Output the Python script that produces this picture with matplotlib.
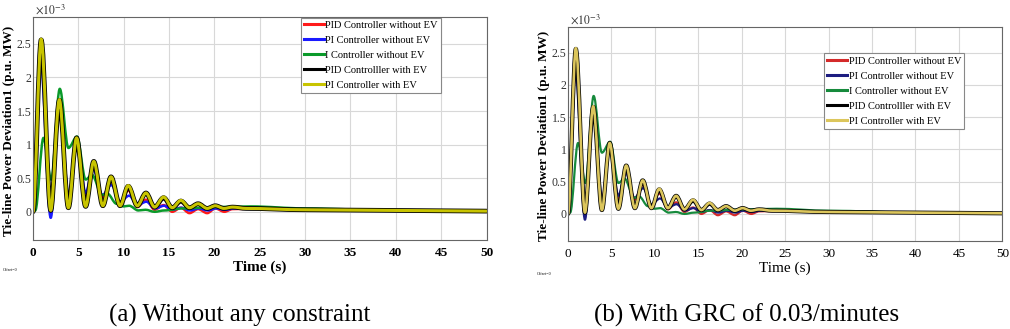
import matplotlib
matplotlib.use('Agg')
import matplotlib.pyplot as plt
from matplotlib.path import Path
from matplotlib.patches import PathPatch
from matplotlib.lines import Line2D

plt.rcParams['font.family'] = ['Liberation Serif', 'DejaVu Serif']
plt.rcParams['mathtext.fontset'] = 'stix'

# Tie-line power deviation (x1e-3 p.u. MW), read at the peaks/troughs of each trace
t_pid_no_ev = [0, 0.9, 1.95, 2.9, 3.9, 4.8, 5.8, 6.65, 7.65, 8.6, 9.6, 10.5, 11.5, 12.45, 13.4,
               14.4, 15.35, 16.3, 17.25, 18.2, 19.2, 20.1, 21.1, 22.0, 25, 30, 40, 50]
v_pid_no_ev = [0, 2.35, -0.03, 1.63, 0.18, 1.08, 0.22, 0.68, 0.22, 0.45, 0.13, 0.32, 0.07, 0.18, 0.03,
               0.10, 0.0, 0.06, -0.02, 0.04, -0.02, 0.05, 0.0, 0.04, 0.05, 0.04, 0.02, 0.01]

t_pi_no_ev = [0, 0.85, 1.95, 2.9, 3.95, 4.85, 5.8, 6.6, 7.65, 8.65, 9.6, 10.6, 11.5, 12.5, 13.45,
              14.45, 15.35, 16.35, 17.3, 18.3, 19.25, 20.2, 21.2, 22.2, 25, 30, 40, 50]
v_pi_no_ev = [0, 2.22, -0.09, 1.60, 0.22, 1.05, 0.28, 0.65, 0.25, 0.40, 0.15, 0.24, 0.10, 0.15, 0.05,
              0.09, 0.03, 0.06, 0.02, 0.05, 0.02, 0.05, 0.03, 0.05, 0.05, 0.04, 0.02, 0.01]

t_i_no_ev = [0, 0.25, 1.15, 2.0, 2.95, 3.9, 4.85, 5.8, 6.5, 7.6, 8.2, 9.2, 10.0, 10.6, 11.6,
             12.4, 13.4, 14.5, 16.5, 20, 24, 30, 40, 50]
v_i_no_ev = [0, 0.02, 1.10, 0.48, 1.83, 0.95, 1.12, 0.48, 0.55, 0.25, 0.27, 0.12, 0.08, 0.09, 0.02,
             0.03, 0.0, 0.02, 0.05, 0.07, 0.08, 0.05, 0.02, 0.01]

t_pid_ev = [0, 0.9, 1.95, 2.9, 3.9, 4.8, 5.8, 6.7, 7.7, 8.6, 9.6, 10.5, 11.5, 12.45, 13.4,
            14.4, 15.35, 16.3, 17.25, 18.2, 19.2, 20.1, 21.05, 22.0, 23.5, 30, 40, 50]
v_pid_ev = [0, 2.56, 0.02, 1.66, 0.06, 1.10, 0.08, 0.75, 0.09, 0.52, 0.09, 0.38, 0.09, 0.28, 0.07,
            0.21, 0.06, 0.16, 0.06, 0.12, 0.05, 0.09, 0.05, 0.07, 0.05, 0.03, 0.02, 0.01]

t_pi_ev = [0, 0.9, 1.95, 2.9, 3.9, 4.8, 5.8, 6.7, 7.7, 8.6, 9.6, 10.5, 11.5, 12.45, 13.4,
           14.4, 15.35, 16.3, 17.25, 18.2, 19.2, 20.1, 21.05, 22.0, 23.5, 30, 40, 50]
v_pi_ev = [0, 2.57, 0.02, 1.67, 0.06, 1.10, 0.08, 0.75, 0.09, 0.52, 0.09, 0.39, 0.09, 0.28, 0.07,
           0.22, 0.06, 0.17, 0.06, 0.12, 0.05, 0.09, 0.05, 0.07, 0.05, 0.03, 0.02, 0.01]

labels = ['PID Controller without EV', 'PI Controller without EV', 'I Controller without EV',
          'PID Controlller with EV', 'PI Controller with EV']
series = [(t_pid_no_ev, v_pid_no_ev), (t_pi_no_ev, v_pi_no_ev), (t_i_no_ev, v_i_no_ev),
          (t_pid_ev, v_pid_ev), (t_pi_ev, v_pi_ev)]

colors_a = ['#ff1a1a', '#1a1aff', '#0a9a2a', '#000000', '#c8c400']
colors_b = ['#d42a2a', '#1c1c80', '#168a3c', '#000000', '#dcc65c']
widths_a = [1.8, 1.8, 1.8, 3.4, 2.2]
widths_b = [1.6, 1.6, 1.6, 3.0, 1.9]

yticks = [0, 0.5, 1, 1.5, 2, 2.5]
ytick_labels = ['0', '0.5', '1', '1.5', '2', '2.5']
xticks = list(range(0, 51, 5))


def smooth_path(t, v):
    # cubic bezier between successive extrema, flat tangents at each point
    verts = [(t[0], v[0])]
    codes = [Path.MOVETO]
    for i in range(len(t) - 1):
        d = t[i + 1] - t[i]
        verts += [(t[i] + d / 3, v[i]), (t[i + 1] - d / 3, v[i + 1]), (t[i + 1], v[i + 1])]
        codes += [Path.CURVE4] * 3
    return Path(verts, codes)


def draw_panel(ax, colors, widths, leg_anchor, bold, ylab_x):
    weight = 'bold' if bold else 'normal'
    for (t, v), c, w in zip(series, colors, widths):
        ax.add_patch(PathPatch(smooth_path(t, v), fill=False, edgecolor=c, lw=w,
                               joinstyle='round', capstyle='round'))
    ax.set_xlim(0, 50)
    ax.set_ylim(-0.42, 2.9)
    ax.set_xticks(xticks)
    ax.set_yticks(yticks)
    ax.set_yticklabels(ytick_labels)
    ax.tick_params(axis='x', length=0, pad=5)
    ax.tick_params(axis='y', length=0, pad=1)
    for lab in ax.get_xticklabels():
        lab.set_fontweight(weight)
        lab.set_fontsize(9.5)
    for lab in ax.get_yticklabels():
        lab.set_fontsize(8.5)
        lab.set_color('#333333')
    ax.grid(True, color='#d8d8d8', lw=0.8)
    ax.set_axisbelow(True)
    for s in ax.spines.values():
        s.set_color('#666666')
        s.set_linewidth(0.8)
    ax.set_xlabel('Time (s)', fontsize=11, fontweight=weight, labelpad=1)
    ax.set_ylabel('Tie-line Power Deviation1 (p.u. MW)', fontsize=9.5, fontweight='bold')
    ax.yaxis.set_label_coords(ylab_x, 0.49)
    ax.text(0.005, 1.0, r'$\times10^{-3}$', transform=ax.transAxes, fontsize=8.5,
            ha='left', va='bottom', color='#333333')
    handles = [Line2D([0], [0], color=c, lw=2.2) for c in colors]
    leg = ax.legend(handles, labels, loc='upper left', bbox_to_anchor=leg_anchor,
                    fontsize=7.5, frameon=True, fancybox=False, framealpha=1,
                    edgecolor='#888888', handlelength=1.9, handletextpad=0.15,
                    labelspacing=0.55, borderpad=0.3, borderaxespad=0)
    leg.get_frame().set_linewidth(0.8)


fig = plt.figure(figsize=(10.1, 3.29), dpi=100)
ax1 = fig.add_axes([0.0327, 0.2705, 0.449, 0.678])
ax2 = fig.add_axes([0.5624, 0.2675, 0.430, 0.6505])

draw_panel(ax1, colors_a, widths_a, (0.59, 0.997), True, -0.039)
draw_panel(ax2, colors_b, widths_b, (0.59, 0.878), False, -0.041)

fig.text(0.003, 0.175, 'Offset=0', fontsize=3)
fig.text(0.532, 0.165, 'Offset=0', fontsize=3)

fig.text(0.2376, 0.022, '(a) Without any constraint', fontsize=18, ha='center')
fig.text(0.7395, 0.022, '(b) With GRC of 0.03/minutes', fontsize=18, ha='center')

fig.savefig('out.png', dpi=100)
